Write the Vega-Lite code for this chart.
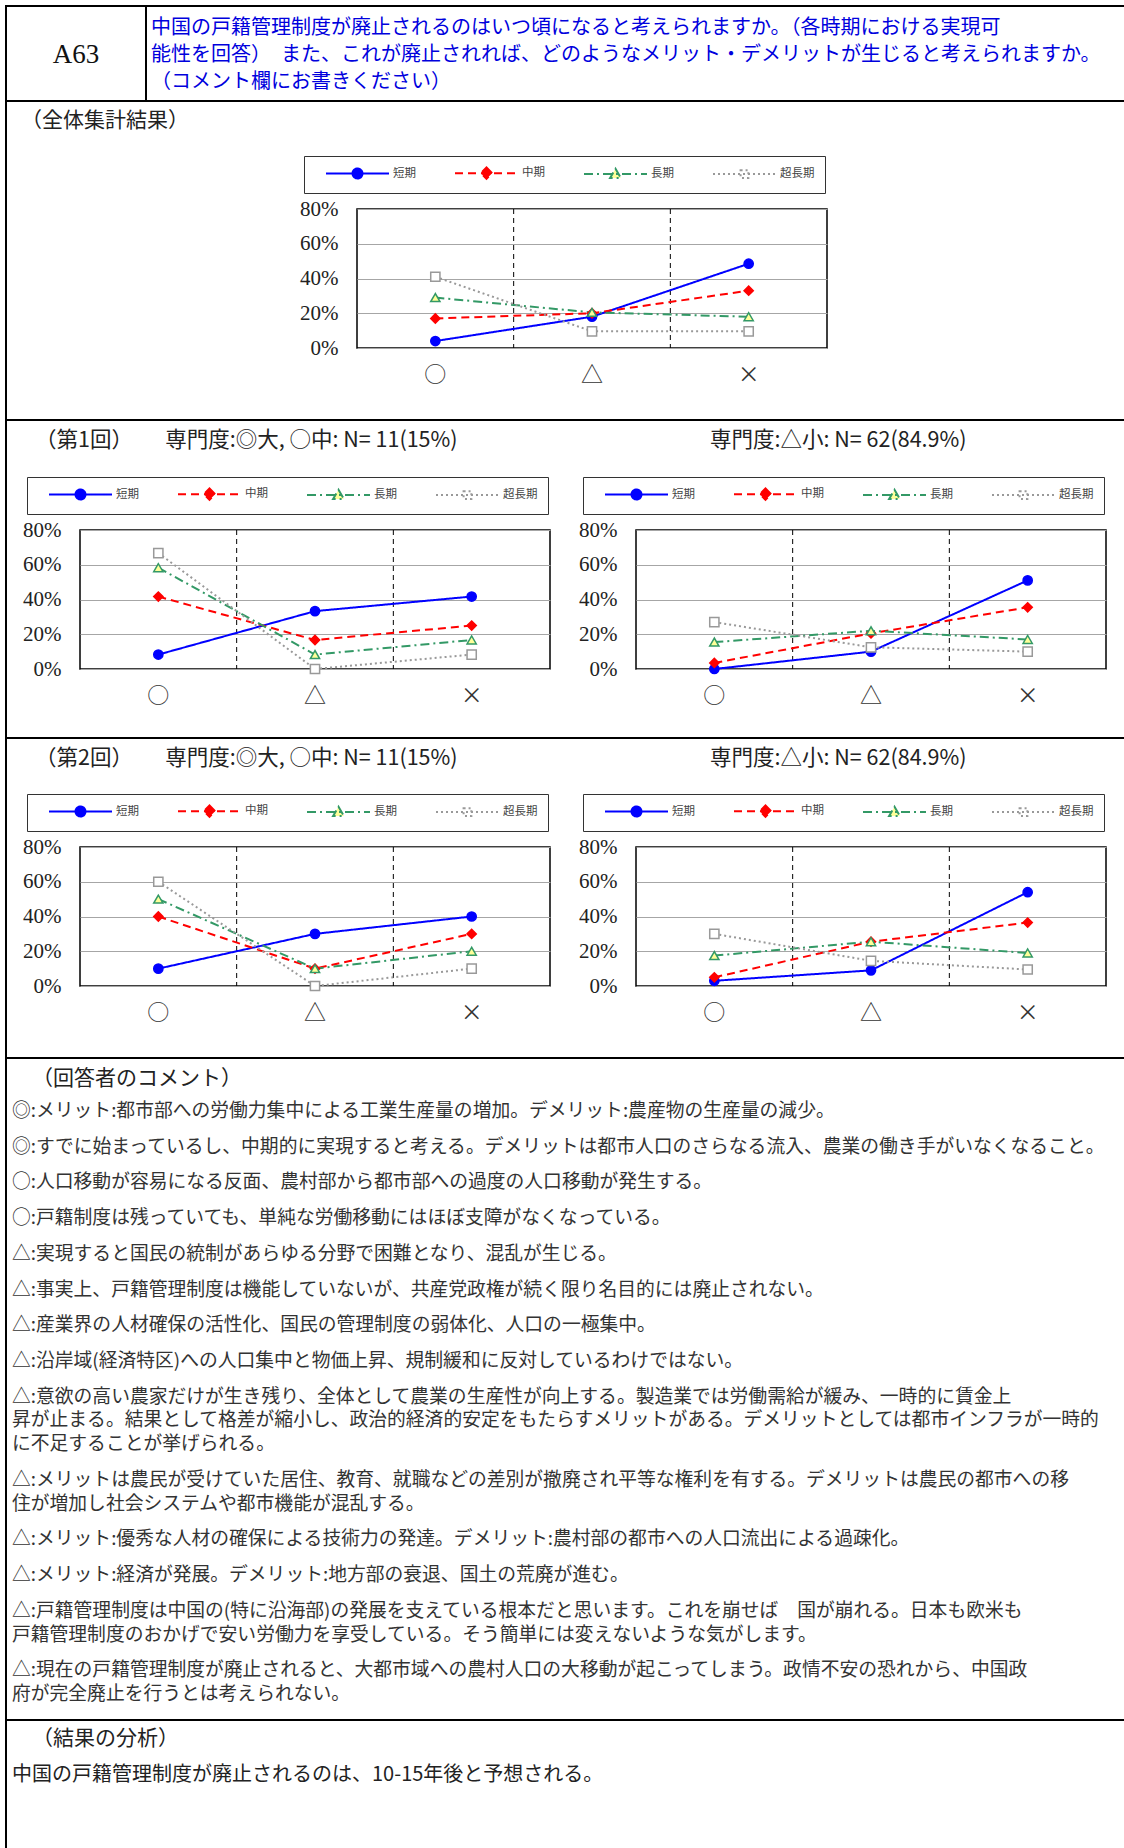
{
  "$schema": "https://vega.github.io/schema/vega-lite/v6.json",
  "autosize": {"type": "pad"},
  "padding": {"left": 5, "top": 5, "right": 0, "bottom": 0},
  "background": "#ffffff",
  "config": {"view": {"stroke": null}, "font": "Noto Sans CJK JP"},
  "datasets": {
    "overall": [
      {"s": "短期", "c": "○", "v": 4}, {"s": "短期", "c": "△", "v": 18}, {"s": "短期", "c": "×", "v": 48.5},
      {"s": "中期", "c": "○", "v": 17}, {"s": "中期", "c": "△", "v": 20}, {"s": "中期", "c": "×", "v": 33},
      {"s": "長期", "c": "○", "v": 29}, {"s": "長期", "c": "△", "v": 20.5}, {"s": "長期", "c": "×", "v": 18},
      {"s": "超長期", "c": "○", "v": 41}, {"s": "超長期", "c": "△", "v": 9.6}, {"s": "超長期", "c": "×", "v": 9.6}
    ],
    "r1L": [
      {"s": "短期", "c": "○", "v": 8.3}, {"s": "短期", "c": "△", "v": 33.3}, {"s": "短期", "c": "×", "v": 41.7},
      {"s": "中期", "c": "○", "v": 41.7}, {"s": "中期", "c": "△", "v": 16.7}, {"s": "中期", "c": "×", "v": 25},
      {"s": "長期", "c": "○", "v": 58.3}, {"s": "長期", "c": "△", "v": 8.3}, {"s": "長期", "c": "×", "v": 16.7},
      {"s": "超長期", "c": "○", "v": 66.7}, {"s": "超長期", "c": "△", "v": 0}, {"s": "超長期", "c": "×", "v": 8.3}
    ],
    "r1R": [
      {"s": "短期", "c": "○", "v": 0}, {"s": "短期", "c": "△", "v": 10}, {"s": "短期", "c": "×", "v": 51},
      {"s": "中期", "c": "○", "v": 3.5}, {"s": "中期", "c": "△", "v": 20.5}, {"s": "中期", "c": "×", "v": 35.5},
      {"s": "長期", "c": "○", "v": 15.5}, {"s": "長期", "c": "△", "v": 22}, {"s": "長期", "c": "×", "v": 17},
      {"s": "超長期", "c": "○", "v": 27}, {"s": "超長期", "c": "△", "v": 12.5}, {"s": "超長期", "c": "×", "v": 10}
    ],
    "r2L": [
      {"s": "短期", "c": "○", "v": 10}, {"s": "短期", "c": "△", "v": 30}, {"s": "短期", "c": "×", "v": 40},
      {"s": "中期", "c": "○", "v": 40}, {"s": "中期", "c": "△", "v": 10}, {"s": "中期", "c": "×", "v": 30},
      {"s": "長期", "c": "○", "v": 50}, {"s": "長期", "c": "△", "v": 10}, {"s": "長期", "c": "×", "v": 20},
      {"s": "超長期", "c": "○", "v": 60}, {"s": "超長期", "c": "△", "v": 0}, {"s": "超長期", "c": "×", "v": 10}
    ],
    "r2R": [
      {"s": "短期", "c": "○", "v": 3}, {"s": "短期", "c": "△", "v": 9}, {"s": "短期", "c": "×", "v": 54},
      {"s": "中期", "c": "○", "v": 5}, {"s": "中期", "c": "△", "v": 25.5}, {"s": "中期", "c": "×", "v": 36.5},
      {"s": "長期", "c": "○", "v": 17.5}, {"s": "長期", "c": "△", "v": 25.5}, {"s": "長期", "c": "×", "v": 19},
      {"s": "超長期", "c": "○", "v": 30}, {"s": "超長期", "c": "△", "v": 14.5}, {"s": "超長期", "c": "×", "v": 9.5}
    ],
    "comments": [
      {"line": 0, "t": "◎:メリット:都市部への労働力集中による工業生産量の増加。デメリット:農産物の生産量の減少。"},
      {"line": 3, "t": "◎:すでに始まっているし、中期的に実現すると考える。デメリットは都市人口のさらなる流入、農業の働き手がいなくなること。"},
      {"line": 6, "t": "○:人口移動が容易になる反面、農村部から都市部への過度の人口移動が発生する。"},
      {"line": 9, "t": "○:戸籍制度は残っていても、単純な労働移動にはほぼ支障がなくなっている。"},
      {"line": 12, "t": "△:実現すると国民の統制があらゆる分野で困難となり、混乱が生じる。"},
      {"line": 15, "t": "△:事実上、戸籍管理制度は機能していないが、共産党政権が続く限り名目的には廃止されない。"},
      {"line": 18, "t": "△:産業界の人材確保の活性化、国民の管理制度の弱体化、人口の一極集中。"},
      {"line": 21, "t": "△:沿岸域(経済特区)への人口集中と物価上昇、規制緩和に反対しているわけではない。"},
      {"line": 24, "t": "△:意欲の高い農家だけが生き残り、全体として農業の生産性が向上する。製造業では労働需給が緩み、一時的に賃金上"},
      {"line": 26, "t": "昇が止まる。結果として格差が縮小し、政治的経済的安定をもたらすメリットがある。デメリットとしては都市インフラが一時的"},
      {"line": 28, "t": "に不足することが挙げられる。"},
      {"line": 31, "t": "△:メリットは農民が受けていた居住、教育、就職などの差別が撤廃され平等な権利を有する。デメリットは農民の都市への移"},
      {"line": 33, "t": "住が増加し社会システムや都市機能が混乱する。"},
      {"line": 36, "t": "△:メリット:優秀な人材の確保による技術力の発達。デメリット:農村部の都市への人口流出による過疎化。"},
      {"line": 39, "t": "△:メリット:経済が発展。デメリット:地方部の衰退、国土の荒廃が進む。"},
      {"line": 42, "t": "△:戸籍管理制度は中国の(特に沿海部)の発展を支えている根本だと思います。これを崩せば　国が崩れる。日本も欧米も"},
      {"line": 44, "t": "戸籍管理制度のおかげで安い労働力を享受している。そう簡単には変えないような気がします。"},
      {"line": 47, "t": "△:現在の戸籍管理制度が廃止されると、大都市域への農村人口の大移動が起こってしまう。政情不安の恐れから、中国政"},
      {"line": 49, "t": "府が完全廃止を行うとは考えられない。"}
    ]
  },
  "spacing": 0,
  "resolve": {"scale": {"stroke": "independent", "fill": "independent", "shape": "independent", "strokeDash": "independent"}, "legend": {"stroke": "independent", "fill": "independent", "shape": "independent", "strokeDash": "independent"}},
  "hconcat": [
    {"width": 2, "height": 1843, "data": {"values": []}, "mark": "point", "view": {"fill": "#000000", "stroke": null}},
    {
      "spacing": 0,
      "resolve": {"scale": {"stroke": "independent", "fill": "independent", "shape": "independent", "strokeDash": "independent"}, "legend": {"stroke": "independent", "fill": "independent", "shape": "independent", "strokeDash": "independent"}},
      "vconcat": [
        {"width": 1117, "height": 2, "data": {"values": []}, "mark": "point", "view": {"fill": "#000000", "stroke": null}},
        {
          "spacing": 0, "bounds": "flush",
          "hconcat": [
            {"width": 138, "height": 93, "data": {"values": [{"t": "A63"}]}, "mark": {"type": "text", "font": "Liberation Serif", "fontSize": 27, "color": "#111111", "align": "center", "baseline": "middle", "x": 69, "y": 48}, "encoding": {"text": {"field": "t", "type": "nominal"}}},
            {"width": 2, "height": 93, "data": {"values": []}, "mark": "point", "view": {"fill": "#000000", "stroke": null}},
            {"width": 977, "height": 93, "data": {"values": [{"t": ["中国の戸籍管理制度が廃止されるのはいつ頃になると考えられますか。（各時期における実現可", "能性を回答）　また、これが廃止されれば、どのようなメリット・デメリットが生じると考えられますか。", "（コメント欄にお書きください）"]}]}, "mark": {"type": "text", "align": "left", "baseline": "alphabetic", "x": 4, "y": 27, "fontSize": 20, "lineHeight": 27, "color": "#0000dd"}, "encoding": {"text": {"field": "t", "type": "nominal"}}}
          ]
        },
        {"width": 1117, "height": 2, "data": {"values": []}, "mark": "point", "view": {"fill": "#000000", "stroke": null}},
        {"width": 1117, "height": 52, "data": {"values": [{"t": "（全体集計結果）"}]}, "mark": {"type": "text", "align": "left", "baseline": "alphabetic", "x": 14, "y": 25, "fontSize": 21, "color": "#222222"}, "encoding": {"text": {"field": "t", "type": "nominal"}}},
        {
          "spacing": 0, "bounds": "flush",
          "resolve": {"scale": {"stroke": "independent", "fill": "independent", "shape": "independent", "strokeDash": "independent"}, "legend": {"stroke": "independent", "fill": "independent", "shape": "independent", "strokeDash": "independent"}},
          "hconcat": [
            {"width": 350, "height": 210, "data": {"values": []}, "mark": "point"},
            {
              "width": 470, "height": 139,
              "data": {"name": "overall"},
              "view": {"stroke": "#000000", "strokeWidth": 1.5},
              "resolve": {"scale": {"stroke": "independent", "fill": "independent", "shape": "independent", "strokeDash": "independent"}, "legend": {"stroke": "independent", "fill": "independent", "shape": "independent", "strokeDash": "independent"}},
              "encoding": {"x": {"field": "c", "type": "nominal", "sort": ["○", "△", "×"], "scale": {"type": "band", "domain": ["○", "△", "×"], "paddingInner": 0, "paddingOuter": 0}, "axis": {"title": null, "labelAngle": 0, "labelFont": "Noto Sans CJK JP", "labelFontSize": 22, "labelColor": "#333333", "labelPadding": 16, "domain": false, "ticks": false, "grid": false}}},
              "layer": [
                {"transform": [{"filter": "datum.s === '短期' && datum.c !== '○'"}], "mark": {"type": "rule", "color": "#000000", "strokeDash": [5, 4], "strokeWidth": 1}, "encoding": {"x": {"field": "c", "type": "nominal", "sort": ["○", "△", "×"], "bandPosition": 0}}},
                {"mark": {"type": "line", "strokeWidth": 2}, "encoding": {
                  "y": {"field": "v", "type": "quantitative", "scale": {"domain": [0, 80], "nice": false}, "axis": {"title": null, "values": [0, 20, 40, 60, 80], "tickCount": 5, "labelExpr": "datum.value + '%'", "labelOverlap": false, "labelFont": "Liberation Serif", "labelFontSize": 21, "labelColor": "#222222", "labelPadding": 19, "domain": false, "ticks": false, "grid": true, "gridColor": "#a6a6a6", "gridWidth": 1}},
                  "stroke": {"field": "s", "type": "nominal", "scale": {"domain": ["短期", "中期", "長期", "超長期"], "range": ["#0000ff", "#ff0000", "#339966", "#999999"]}, "legend": null},
                  "strokeDash": {"field": "s", "type": "nominal", "scale": {"domain": ["短期", "中期", "長期", "超長期"], "range": [[1, 0], [8, 5], [9, 4, 2, 4], [2, 3]]}, "legend": null}
                }},
                {"mark": {"type": "point", "filled": true, "opacity": 1, "strokeWidth": 1.5, "size": 85}, "encoding": {
                  "y": {"field": "v", "type": "quantitative", "scale": {"domain": [0, 80], "nice": false}, "axis": {"title": null, "values": [0, 20, 40, 60, 80], "tickCount": 5, "labelExpr": "datum.value + '%'", "labelOverlap": false, "labelFont": "Liberation Serif", "labelFontSize": 21, "labelColor": "#222222", "labelPadding": 19, "domain": false, "ticks": false, "grid": true, "gridColor": "#a6a6a6", "gridWidth": 1}},
                  "stroke": {"field": "s", "type": "nominal", "scale": {"domain": ["短期", "中期", "長期", "超長期"], "range": ["#0000ff", "#ff0000", "#339966", "#999999"]}, "legend": null},
                  "fill": {"field": "s", "type": "nominal", "scale": {"domain": ["短期", "中期", "長期", "超長期"], "range": ["#0000ff", "#ff0000", "#ffff99", "#ffffff"]}, "legend": null},
                  "shape": {"field": "s", "type": "nominal", "scale": {"domain": ["短期", "中期", "長期", "超長期"], "range": ["circle", "diamond", "triangle-up", "square"]}, "legend": null}
                }},
                {"transform": [{"filter": "datum.v < 0"}], "mark": {"type": "point", "filled": true, "strokeWidth": 2}, "encoding": {
                  "stroke": {"field": "s", "type": "nominal", "scale": {"domain": ["短期", "中期", "長期", "超長期"], "range": ["#0000ff", "#ff0000", "#339966", "#999999"]}},
                  "fill": {"field": "s", "type": "nominal", "scale": {"domain": ["短期", "中期", "長期", "超長期"], "range": ["#0000ff", "#ff0000", "#ffff99", "#ffffff"]}},
                  "strokeDash": {"field": "s", "type": "nominal", "scale": {"domain": ["短期", "中期", "長期", "超長期"], "range": [[1, 0], [8, 5], [9, 4, 2, 4], [2, 3]]}},
                  "shape": {"field": "s", "type": "nominal", "scale": {"domain": ["短期", "中期", "長期", "超長期"], "range": ["M-1,0M0.833,0L11.333,0M5.25,0A0.833,0.833,0,1,1,6.916,0A0.833,0.833,0,1,1,5.25,0Z", "M-1,0M0.833,0L11.333,0M6.083,-0.95L7.03,0L6.083,0.95L5.13,0Z", "M-1,0M0.833,0L11.333,0M6.083,-0.85L6.98,0.7L5.18,0.7Z", "M-1,0M0.833,0L11.333,0M5.43,-0.65L6.73,-0.65L6.73,0.65L5.43,0.65Z"]}, "legend": {"orient": "none", "legendX": -53, "legendY": -53, "direction": "horizontal", "columns": 4, "title": null, "padding": 10, "strokeColor": "#333333", "fillColor": "#ffffff", "symbolSize": 144, "symbolStrokeWidth": 2, "symbolOpacity": 1, "labelOffset": 65, "labelFont": "Noto Sans CJK JP", "labelFontSize": 11.5, "labelColor": "#444444", "columnPadding": 24, "gridAlign": "each"}}
                }}
              ]
            }
          ]
        },
        {"width": 1117, "height": 2, "data": {"values": []}, "mark": "point", "view": {"fill": "#000000", "stroke": null}},
        {"width": 1117, "height": 54, "layer": [
          {"data": {"values": [{"t": "（第1回）　　専門度:◎大, ○中: N= 11(15%)"}]}, "mark": {"type": "text", "align": "left", "baseline": "alphabetic", "x": 28, "y": 26, "fontSize": 21.5, "color": "#222222"}, "encoding": {"text": {"field": "t", "type": "nominal"}}},
          {"data": {"values": [{"t": "専門度:△小: N= 62(84.9%)"}]}, "mark": {"type": "text", "align": "left", "baseline": "alphabetic", "x": 703, "y": 26, "fontSize": 21.5, "color": "#222222"}, "encoding": {"text": {"field": "t", "type": "nominal"}}}
        ]},
        {
          "spacing": 0, "bounds": "flush",
          "resolve": {"scale": {"stroke": "independent", "fill": "independent", "shape": "independent", "strokeDash": "independent"}, "legend": {"stroke": "independent", "fill": "independent", "shape": "independent", "strokeDash": "independent"}},
          "hconcat": [
            {"width": 73, "height": 207, "data": {"values": []}, "mark": "point"},
            {
              "width": 470, "height": 139,
              "data": {"name": "r1L"},
              "view": {"stroke": "#000000", "strokeWidth": 1.5},
              "resolve": {"scale": {"stroke": "independent", "fill": "independent", "shape": "independent", "strokeDash": "independent"}, "legend": {"stroke": "independent", "fill": "independent", "shape": "independent", "strokeDash": "independent"}},
              "encoding": {"x": {"field": "c", "type": "nominal", "sort": ["○", "△", "×"], "scale": {"type": "band", "domain": ["○", "△", "×"], "paddingInner": 0, "paddingOuter": 0}, "axis": {"title": null, "labelAngle": 0, "labelFont": "Noto Sans CJK JP", "labelFontSize": 22, "labelColor": "#333333", "labelPadding": 16, "domain": false, "ticks": false, "grid": false}}},
              "layer": [
                {"transform": [{"filter": "datum.s === '短期' && datum.c !== '○'"}], "mark": {"type": "rule", "color": "#000000", "strokeDash": [5, 4], "strokeWidth": 1}, "encoding": {"x": {"field": "c", "type": "nominal", "sort": ["○", "△", "×"], "bandPosition": 0}}},
                {"mark": {"type": "line", "strokeWidth": 2}, "encoding": {
                  "y": {"field": "v", "type": "quantitative", "scale": {"domain": [0, 80], "nice": false}, "axis": {"title": null, "values": [0, 20, 40, 60, 80], "tickCount": 5, "labelExpr": "datum.value + '%'", "labelOverlap": false, "labelFont": "Liberation Serif", "labelFontSize": 21, "labelColor": "#222222", "labelPadding": 19, "domain": false, "ticks": false, "grid": true, "gridColor": "#a6a6a6", "gridWidth": 1}},
                  "stroke": {"field": "s", "type": "nominal", "scale": {"domain": ["短期", "中期", "長期", "超長期"], "range": ["#0000ff", "#ff0000", "#339966", "#999999"]}, "legend": null},
                  "strokeDash": {"field": "s", "type": "nominal", "scale": {"domain": ["短期", "中期", "長期", "超長期"], "range": [[1, 0], [8, 5], [9, 4, 2, 4], [2, 3]]}, "legend": null}
                }},
                {"mark": {"type": "point", "filled": true, "opacity": 1, "strokeWidth": 1.5, "size": 85}, "encoding": {
                  "y": {"field": "v", "type": "quantitative", "scale": {"domain": [0, 80], "nice": false}, "axis": {"title": null, "values": [0, 20, 40, 60, 80], "tickCount": 5, "labelExpr": "datum.value + '%'", "labelOverlap": false, "labelFont": "Liberation Serif", "labelFontSize": 21, "labelColor": "#222222", "labelPadding": 19, "domain": false, "ticks": false, "grid": true, "gridColor": "#a6a6a6", "gridWidth": 1}},
                  "stroke": {"field": "s", "type": "nominal", "scale": {"domain": ["短期", "中期", "長期", "超長期"], "range": ["#0000ff", "#ff0000", "#339966", "#999999"]}, "legend": null},
                  "fill": {"field": "s", "type": "nominal", "scale": {"domain": ["短期", "中期", "長期", "超長期"], "range": ["#0000ff", "#ff0000", "#ffff99", "#ffffff"]}, "legend": null},
                  "shape": {"field": "s", "type": "nominal", "scale": {"domain": ["短期", "中期", "長期", "超長期"], "range": ["circle", "diamond", "triangle-up", "square"]}, "legend": null}
                }},
                {"transform": [{"filter": "datum.v < 0"}], "mark": {"type": "point", "filled": true, "strokeWidth": 2}, "encoding": {
                  "stroke": {"field": "s", "type": "nominal", "scale": {"domain": ["短期", "中期", "長期", "超長期"], "range": ["#0000ff", "#ff0000", "#339966", "#999999"]}},
                  "fill": {"field": "s", "type": "nominal", "scale": {"domain": ["短期", "中期", "長期", "超長期"], "range": ["#0000ff", "#ff0000", "#ffff99", "#ffffff"]}},
                  "strokeDash": {"field": "s", "type": "nominal", "scale": {"domain": ["短期", "中期", "長期", "超長期"], "range": [[1, 0], [8, 5], [9, 4, 2, 4], [2, 3]]}},
                  "shape": {"field": "s", "type": "nominal", "scale": {"domain": ["短期", "中期", "長期", "超長期"], "range": ["M-1,0M0.833,0L11.333,0M5.25,0A0.833,0.833,0,1,1,6.916,0A0.833,0.833,0,1,1,5.25,0Z", "M-1,0M0.833,0L11.333,0M6.083,-0.95L7.03,0L6.083,0.95L5.13,0Z", "M-1,0M0.833,0L11.333,0M6.083,-0.85L6.98,0.7L5.18,0.7Z", "M-1,0M0.833,0L11.333,0M5.43,-0.65L6.73,-0.65L6.73,0.65L5.43,0.65Z"]}, "legend": {"orient": "none", "legendX": -53, "legendY": -53, "direction": "horizontal", "columns": 4, "title": null, "padding": 10, "strokeColor": "#333333", "fillColor": "#ffffff", "symbolSize": 144, "symbolStrokeWidth": 2, "symbolOpacity": 1, "labelOffset": 65, "labelFont": "Noto Sans CJK JP", "labelFontSize": 11.5, "labelColor": "#444444", "columnPadding": 24, "gridAlign": "each"}}
                }}
              ]
            },
            {"width": 86, "height": 1, "data": {"values": []}, "mark": "point"},
            {
              "width": 470, "height": 139,
              "data": {"name": "r1R"},
              "view": {"stroke": "#000000", "strokeWidth": 1.5},
              "resolve": {"scale": {"stroke": "independent", "fill": "independent", "shape": "independent", "strokeDash": "independent"}, "legend": {"stroke": "independent", "fill": "independent", "shape": "independent", "strokeDash": "independent"}},
              "encoding": {"x": {"field": "c", "type": "nominal", "sort": ["○", "△", "×"], "scale": {"type": "band", "domain": ["○", "△", "×"], "paddingInner": 0, "paddingOuter": 0}, "axis": {"title": null, "labelAngle": 0, "labelFont": "Noto Sans CJK JP", "labelFontSize": 22, "labelColor": "#333333", "labelPadding": 16, "domain": false, "ticks": false, "grid": false}}},
              "layer": [
                {"transform": [{"filter": "datum.s === '短期' && datum.c !== '○'"}], "mark": {"type": "rule", "color": "#000000", "strokeDash": [5, 4], "strokeWidth": 1}, "encoding": {"x": {"field": "c", "type": "nominal", "sort": ["○", "△", "×"], "bandPosition": 0}}},
                {"mark": {"type": "line", "strokeWidth": 2}, "encoding": {
                  "y": {"field": "v", "type": "quantitative", "scale": {"domain": [0, 80], "nice": false}, "axis": {"title": null, "values": [0, 20, 40, 60, 80], "tickCount": 5, "labelExpr": "datum.value + '%'", "labelOverlap": false, "labelFont": "Liberation Serif", "labelFontSize": 21, "labelColor": "#222222", "labelPadding": 19, "domain": false, "ticks": false, "grid": true, "gridColor": "#a6a6a6", "gridWidth": 1}},
                  "stroke": {"field": "s", "type": "nominal", "scale": {"domain": ["短期", "中期", "長期", "超長期"], "range": ["#0000ff", "#ff0000", "#339966", "#999999"]}, "legend": null},
                  "strokeDash": {"field": "s", "type": "nominal", "scale": {"domain": ["短期", "中期", "長期", "超長期"], "range": [[1, 0], [8, 5], [9, 4, 2, 4], [2, 3]]}, "legend": null}
                }},
                {"mark": {"type": "point", "filled": true, "opacity": 1, "strokeWidth": 1.5, "size": 85}, "encoding": {
                  "y": {"field": "v", "type": "quantitative", "scale": {"domain": [0, 80], "nice": false}, "axis": {"title": null, "values": [0, 20, 40, 60, 80], "tickCount": 5, "labelExpr": "datum.value + '%'", "labelOverlap": false, "labelFont": "Liberation Serif", "labelFontSize": 21, "labelColor": "#222222", "labelPadding": 19, "domain": false, "ticks": false, "grid": true, "gridColor": "#a6a6a6", "gridWidth": 1}},
                  "stroke": {"field": "s", "type": "nominal", "scale": {"domain": ["短期", "中期", "長期", "超長期"], "range": ["#0000ff", "#ff0000", "#339966", "#999999"]}, "legend": null},
                  "fill": {"field": "s", "type": "nominal", "scale": {"domain": ["短期", "中期", "長期", "超長期"], "range": ["#0000ff", "#ff0000", "#ffff99", "#ffffff"]}, "legend": null},
                  "shape": {"field": "s", "type": "nominal", "scale": {"domain": ["短期", "中期", "長期", "超長期"], "range": ["circle", "diamond", "triangle-up", "square"]}, "legend": null}
                }},
                {"transform": [{"filter": "datum.v < 0"}], "mark": {"type": "point", "filled": true, "strokeWidth": 2}, "encoding": {
                  "stroke": {"field": "s", "type": "nominal", "scale": {"domain": ["短期", "中期", "長期", "超長期"], "range": ["#0000ff", "#ff0000", "#339966", "#999999"]}},
                  "fill": {"field": "s", "type": "nominal", "scale": {"domain": ["短期", "中期", "長期", "超長期"], "range": ["#0000ff", "#ff0000", "#ffff99", "#ffffff"]}},
                  "strokeDash": {"field": "s", "type": "nominal", "scale": {"domain": ["短期", "中期", "長期", "超長期"], "range": [[1, 0], [8, 5], [9, 4, 2, 4], [2, 3]]}},
                  "shape": {"field": "s", "type": "nominal", "scale": {"domain": ["短期", "中期", "長期", "超長期"], "range": ["M-1,0M0.833,0L11.333,0M5.25,0A0.833,0.833,0,1,1,6.916,0A0.833,0.833,0,1,1,5.25,0Z", "M-1,0M0.833,0L11.333,0M6.083,-0.95L7.03,0L6.083,0.95L5.13,0Z", "M-1,0M0.833,0L11.333,0M6.083,-0.85L6.98,0.7L5.18,0.7Z", "M-1,0M0.833,0L11.333,0M5.43,-0.65L6.73,-0.65L6.73,0.65L5.43,0.65Z"]}, "legend": {"orient": "none", "legendX": -53, "legendY": -53, "direction": "horizontal", "columns": 4, "title": null, "padding": 10, "strokeColor": "#333333", "fillColor": "#ffffff", "symbolSize": 144, "symbolStrokeWidth": 2, "symbolOpacity": 1, "labelOffset": 65, "labelFont": "Noto Sans CJK JP", "labelFontSize": 11.5, "labelColor": "#444444", "columnPadding": 24, "gridAlign": "each"}}
                }}
              ]
            }
          ]
        },
        {"width": 1117, "height": 2, "data": {"values": []}, "mark": "point", "view": {"fill": "#000000", "stroke": null}},
        {"width": 1117, "height": 53, "layer": [
          {"data": {"values": [{"t": "（第2回）　　専門度:◎大, ○中: N= 11(15%)"}]}, "mark": {"type": "text", "align": "left", "baseline": "alphabetic", "x": 28, "y": 25.5, "fontSize": 21.5, "color": "#222222"}, "encoding": {"text": {"field": "t", "type": "nominal"}}},
          {"data": {"values": [{"t": "専門度:△小: N= 62(84.9%)"}]}, "mark": {"type": "text", "align": "left", "baseline": "alphabetic", "x": 703, "y": 25.5, "fontSize": 21.5, "color": "#222222"}, "encoding": {"text": {"field": "t", "type": "nominal"}}}
        ]},
        {
          "spacing": 0, "bounds": "flush",
          "resolve": {"scale": {"stroke": "independent", "fill": "independent", "shape": "independent", "strokeDash": "independent"}, "legend": {"stroke": "independent", "fill": "independent", "shape": "independent", "strokeDash": "independent"}},
          "hconcat": [
            {"width": 73, "height": 210, "data": {"values": []}, "mark": "point"},
            {
              "width": 470, "height": 139,
              "data": {"name": "r2L"},
              "view": {"stroke": "#000000", "strokeWidth": 1.5},
              "resolve": {"scale": {"stroke": "independent", "fill": "independent", "shape": "independent", "strokeDash": "independent"}, "legend": {"stroke": "independent", "fill": "independent", "shape": "independent", "strokeDash": "independent"}},
              "encoding": {"x": {"field": "c", "type": "nominal", "sort": ["○", "△", "×"], "scale": {"type": "band", "domain": ["○", "△", "×"], "paddingInner": 0, "paddingOuter": 0}, "axis": {"title": null, "labelAngle": 0, "labelFont": "Noto Sans CJK JP", "labelFontSize": 22, "labelColor": "#333333", "labelPadding": 16, "domain": false, "ticks": false, "grid": false}}},
              "layer": [
                {"transform": [{"filter": "datum.s === '短期' && datum.c !== '○'"}], "mark": {"type": "rule", "color": "#000000", "strokeDash": [5, 4], "strokeWidth": 1}, "encoding": {"x": {"field": "c", "type": "nominal", "sort": ["○", "△", "×"], "bandPosition": 0}}},
                {"mark": {"type": "line", "strokeWidth": 2}, "encoding": {
                  "y": {"field": "v", "type": "quantitative", "scale": {"domain": [0, 80], "nice": false}, "axis": {"title": null, "values": [0, 20, 40, 60, 80], "tickCount": 5, "labelExpr": "datum.value + '%'", "labelOverlap": false, "labelFont": "Liberation Serif", "labelFontSize": 21, "labelColor": "#222222", "labelPadding": 19, "domain": false, "ticks": false, "grid": true, "gridColor": "#a6a6a6", "gridWidth": 1}},
                  "stroke": {"field": "s", "type": "nominal", "scale": {"domain": ["短期", "中期", "長期", "超長期"], "range": ["#0000ff", "#ff0000", "#339966", "#999999"]}, "legend": null},
                  "strokeDash": {"field": "s", "type": "nominal", "scale": {"domain": ["短期", "中期", "長期", "超長期"], "range": [[1, 0], [8, 5], [9, 4, 2, 4], [2, 3]]}, "legend": null}
                }},
                {"mark": {"type": "point", "filled": true, "opacity": 1, "strokeWidth": 1.5, "size": 85}, "encoding": {
                  "y": {"field": "v", "type": "quantitative", "scale": {"domain": [0, 80], "nice": false}, "axis": {"title": null, "values": [0, 20, 40, 60, 80], "tickCount": 5, "labelExpr": "datum.value + '%'", "labelOverlap": false, "labelFont": "Liberation Serif", "labelFontSize": 21, "labelColor": "#222222", "labelPadding": 19, "domain": false, "ticks": false, "grid": true, "gridColor": "#a6a6a6", "gridWidth": 1}},
                  "stroke": {"field": "s", "type": "nominal", "scale": {"domain": ["短期", "中期", "長期", "超長期"], "range": ["#0000ff", "#ff0000", "#339966", "#999999"]}, "legend": null},
                  "fill": {"field": "s", "type": "nominal", "scale": {"domain": ["短期", "中期", "長期", "超長期"], "range": ["#0000ff", "#ff0000", "#ffff99", "#ffffff"]}, "legend": null},
                  "shape": {"field": "s", "type": "nominal", "scale": {"domain": ["短期", "中期", "長期", "超長期"], "range": ["circle", "diamond", "triangle-up", "square"]}, "legend": null}
                }},
                {"transform": [{"filter": "datum.v < 0"}], "mark": {"type": "point", "filled": true, "strokeWidth": 2}, "encoding": {
                  "stroke": {"field": "s", "type": "nominal", "scale": {"domain": ["短期", "中期", "長期", "超長期"], "range": ["#0000ff", "#ff0000", "#339966", "#999999"]}},
                  "fill": {"field": "s", "type": "nominal", "scale": {"domain": ["短期", "中期", "長期", "超長期"], "range": ["#0000ff", "#ff0000", "#ffff99", "#ffffff"]}},
                  "strokeDash": {"field": "s", "type": "nominal", "scale": {"domain": ["短期", "中期", "長期", "超長期"], "range": [[1, 0], [8, 5], [9, 4, 2, 4], [2, 3]]}},
                  "shape": {"field": "s", "type": "nominal", "scale": {"domain": ["短期", "中期", "長期", "超長期"], "range": ["M-1,0M0.833,0L11.333,0M5.25,0A0.833,0.833,0,1,1,6.916,0A0.833,0.833,0,1,1,5.25,0Z", "M-1,0M0.833,0L11.333,0M6.083,-0.95L7.03,0L6.083,0.95L5.13,0Z", "M-1,0M0.833,0L11.333,0M6.083,-0.85L6.98,0.7L5.18,0.7Z", "M-1,0M0.833,0L11.333,0M5.43,-0.65L6.73,-0.65L6.73,0.65L5.43,0.65Z"]}, "legend": {"orient": "none", "legendX": -53, "legendY": -53, "direction": "horizontal", "columns": 4, "title": null, "padding": 10, "strokeColor": "#333333", "fillColor": "#ffffff", "symbolSize": 144, "symbolStrokeWidth": 2, "symbolOpacity": 1, "labelOffset": 65, "labelFont": "Noto Sans CJK JP", "labelFontSize": 11.5, "labelColor": "#444444", "columnPadding": 24, "gridAlign": "each"}}
                }}
              ]
            },
            {"width": 86, "height": 1, "data": {"values": []}, "mark": "point"},
            {
              "width": 470, "height": 139,
              "data": {"name": "r2R"},
              "view": {"stroke": "#000000", "strokeWidth": 1.5},
              "resolve": {"scale": {"stroke": "independent", "fill": "independent", "shape": "independent", "strokeDash": "independent"}, "legend": {"stroke": "independent", "fill": "independent", "shape": "independent", "strokeDash": "independent"}},
              "encoding": {"x": {"field": "c", "type": "nominal", "sort": ["○", "△", "×"], "scale": {"type": "band", "domain": ["○", "△", "×"], "paddingInner": 0, "paddingOuter": 0}, "axis": {"title": null, "labelAngle": 0, "labelFont": "Noto Sans CJK JP", "labelFontSize": 22, "labelColor": "#333333", "labelPadding": 16, "domain": false, "ticks": false, "grid": false}}},
              "layer": [
                {"transform": [{"filter": "datum.s === '短期' && datum.c !== '○'"}], "mark": {"type": "rule", "color": "#000000", "strokeDash": [5, 4], "strokeWidth": 1}, "encoding": {"x": {"field": "c", "type": "nominal", "sort": ["○", "△", "×"], "bandPosition": 0}}},
                {"mark": {"type": "line", "strokeWidth": 2}, "encoding": {
                  "y": {"field": "v", "type": "quantitative", "scale": {"domain": [0, 80], "nice": false}, "axis": {"title": null, "values": [0, 20, 40, 60, 80], "tickCount": 5, "labelExpr": "datum.value + '%'", "labelOverlap": false, "labelFont": "Liberation Serif", "labelFontSize": 21, "labelColor": "#222222", "labelPadding": 19, "domain": false, "ticks": false, "grid": true, "gridColor": "#a6a6a6", "gridWidth": 1}},
                  "stroke": {"field": "s", "type": "nominal", "scale": {"domain": ["短期", "中期", "長期", "超長期"], "range": ["#0000ff", "#ff0000", "#339966", "#999999"]}, "legend": null},
                  "strokeDash": {"field": "s", "type": "nominal", "scale": {"domain": ["短期", "中期", "長期", "超長期"], "range": [[1, 0], [8, 5], [9, 4, 2, 4], [2, 3]]}, "legend": null}
                }},
                {"mark": {"type": "point", "filled": true, "opacity": 1, "strokeWidth": 1.5, "size": 85}, "encoding": {
                  "y": {"field": "v", "type": "quantitative", "scale": {"domain": [0, 80], "nice": false}, "axis": {"title": null, "values": [0, 20, 40, 60, 80], "tickCount": 5, "labelExpr": "datum.value + '%'", "labelOverlap": false, "labelFont": "Liberation Serif", "labelFontSize": 21, "labelColor": "#222222", "labelPadding": 19, "domain": false, "ticks": false, "grid": true, "gridColor": "#a6a6a6", "gridWidth": 1}},
                  "stroke": {"field": "s", "type": "nominal", "scale": {"domain": ["短期", "中期", "長期", "超長期"], "range": ["#0000ff", "#ff0000", "#339966", "#999999"]}, "legend": null},
                  "fill": {"field": "s", "type": "nominal", "scale": {"domain": ["短期", "中期", "長期", "超長期"], "range": ["#0000ff", "#ff0000", "#ffff99", "#ffffff"]}, "legend": null},
                  "shape": {"field": "s", "type": "nominal", "scale": {"domain": ["短期", "中期", "長期", "超長期"], "range": ["circle", "diamond", "triangle-up", "square"]}, "legend": null}
                }},
                {"transform": [{"filter": "datum.v < 0"}], "mark": {"type": "point", "filled": true, "strokeWidth": 2}, "encoding": {
                  "stroke": {"field": "s", "type": "nominal", "scale": {"domain": ["短期", "中期", "長期", "超長期"], "range": ["#0000ff", "#ff0000", "#339966", "#999999"]}},
                  "fill": {"field": "s", "type": "nominal", "scale": {"domain": ["短期", "中期", "長期", "超長期"], "range": ["#0000ff", "#ff0000", "#ffff99", "#ffffff"]}},
                  "strokeDash": {"field": "s", "type": "nominal", "scale": {"domain": ["短期", "中期", "長期", "超長期"], "range": [[1, 0], [8, 5], [9, 4, 2, 4], [2, 3]]}},
                  "shape": {"field": "s", "type": "nominal", "scale": {"domain": ["短期", "中期", "長期", "超長期"], "range": ["M-1,0M0.833,0L11.333,0M5.25,0A0.833,0.833,0,1,1,6.916,0A0.833,0.833,0,1,1,5.25,0Z", "M-1,0M0.833,0L11.333,0M6.083,-0.95L7.03,0L6.083,0.95L5.13,0Z", "M-1,0M0.833,0L11.333,0M6.083,-0.85L6.98,0.7L5.18,0.7Z", "M-1,0M0.833,0L11.333,0M5.43,-0.65L6.73,-0.65L6.73,0.65L5.43,0.65Z"]}, "legend": {"orient": "none", "legendX": -53, "legendY": -53, "direction": "horizontal", "columns": 4, "title": null, "padding": 10, "strokeColor": "#333333", "fillColor": "#ffffff", "symbolSize": 144, "symbolStrokeWidth": 2, "symbolOpacity": 1, "labelOffset": 65, "labelFont": "Noto Sans CJK JP", "labelFontSize": 11.5, "labelColor": "#444444", "columnPadding": 24, "gridAlign": "each"}}
                }}
              ]
            }
          ]
        },
        {"width": 1117, "height": 2, "data": {"values": []}, "mark": "point", "view": {"fill": "#000000", "stroke": null}},
        {"width": 1117, "height": 660, "layer": [
          {"data": {"values": [{"t": "（回答者のコメント）"}]}, "mark": {"type": "text", "align": "left", "baseline": "alphabetic", "x": 25, "y": 26, "fontSize": 21, "color": "#222222"}, "encoding": {"text": {"field": "t", "type": "nominal"}}},
          {"data": {"name": "comments"}, "mark": {"type": "text", "align": "left", "baseline": "alphabetic", "x": 5, "fontSize": 18.8, "color": "#333333"}, "encoding": {
            "y": {"field": "line", "type": "quantitative", "scale": {"domain": [-4.874, 50.588], "reverse": true, "nice": false, "zero": false}, "axis": null},
            "text": {"field": "t", "type": "nominal"}
          }}
        ]},
        {"width": 1117, "height": 2, "data": {"values": []}, "mark": "point", "view": {"fill": "#000000", "stroke": null}},
        {"width": 1117, "height": 133, "layer": [
          {"data": {"values": [{"t": "（結果の分析）"}]}, "mark": {"type": "text", "align": "left", "baseline": "alphabetic", "x": 25, "y": 23.5, "fontSize": 21, "color": "#222222"}, "encoding": {"text": {"field": "t", "type": "nominal"}}},
          {"data": {"values": [{"t": "中国の戸籍管理制度が廃止されるのは、10-15年後と予想される。"}]}, "mark": {"type": "text", "align": "left", "baseline": "alphabetic", "x": 5, "y": 59.5, "fontSize": 20, "color": "#222222"}, "encoding": {"text": {"field": "t", "type": "nominal"}}}
        ]}
      ]
    }
  ]
}
